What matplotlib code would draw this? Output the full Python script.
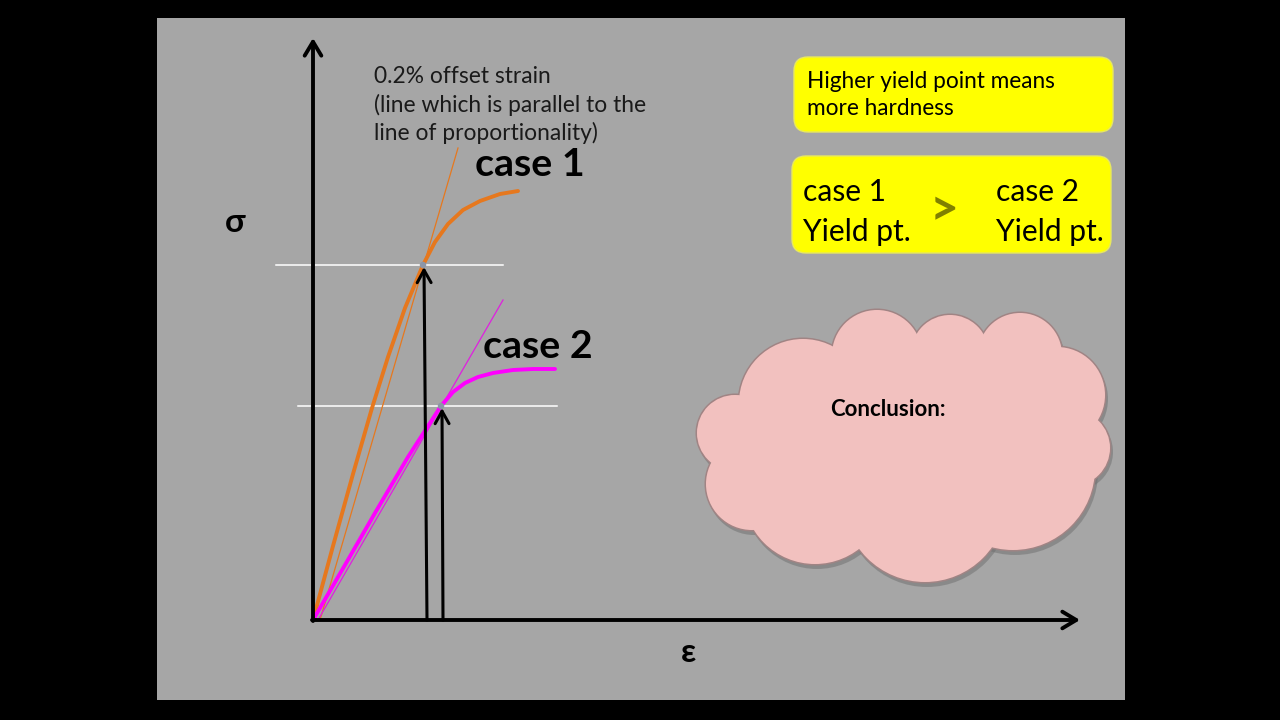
import matplotlib
matplotlib.use("Agg")
import matplotlib.pyplot as plt
from matplotlib.patches import FancyBboxPatch, Circle, Ellipse, Rectangle

plt.rcParams['font.family'] = ['Lato', 'DejaVu Sans']

# stress-strain curves (strain, stress) in drawing units, origin at the axes corner
case1_strain = [0, 20, 40, 59, 75, 92, 110, 122, 135, 150, 167, 187, 205]
case1_stress = [0, 74, 146, 212, 263, 312, 355, 378, 396, 410, 419, 426, 429]
case2_strain = [0, 32, 62, 95, 128, 140, 152, 165, 180, 200, 220, 242]
case2_stress = [0, 55, 107, 163, 214, 228, 237, 243, 247, 250, 251, 251]

# 0.2% offset lines (start, end)
offset1_strain = [7, 145]
offset1_stress = [0, 472]
offset2_strain = [5, 190]
offset2_stress = [0, 320]

# yield points and the horizontal guide lines through them
yield_strain = [110, 128]
yield_stress = [355, 214]
guide_from = [-37, -15]
guide_to = [190, 244]
arrow_base = [114, 130]

x_axis_end = 767
y_axis_end = 582

orange = '#e6781e'
magenta = '#ff00ff'

fig = plt.figure(figsize=(12.8, 7.2), dpi=100)
fig.patch.set_facecolor('black')

# slide layer in pixel coordinates
slide = fig.add_axes([0, 0, 1, 1])
slide.set_xlim(0, 1280)
slide.set_ylim(720, 0)
slide.axis('off')
slide.add_patch(Rectangle((157, 18), 968, 682, facecolor='#a6a6a6', edgecolor='none'))

# yellow notes
slide.add_patch(FancyBboxPatch((794, 57), 319, 75, boxstyle='round,pad=0,rounding_size=14',
                               facecolor='#ffff00', edgecolor='#e8e860', lw=1))
slide.text(807, 95, 'Higher yield point means\nmore hardness', fontsize=16.3,
           va='center', ha='left', linespacing=1.38)
slide.add_patch(FancyBboxPatch((792, 156), 319, 97, boxstyle='round,pad=0,rounding_size=14',
                               facecolor='#ffff00', edgecolor='#e8e860', lw=1))
slide.text(803, 212, 'case 1\nYield pt.', fontsize=21.6, va='center', ha='left', linespacing=1.55)
slide.text(996, 212, 'case 2\nYield pt.', fontsize=21.6, va='center', ha='left', linespacing=1.55)
slide.text(944, 211, '>', fontsize=36, fontweight='bold', color='#808000', va='center', ha='center')

# conclusion cloud built from overlapping lobes
lobes = [(735, 433, 38), (752, 484, 46), (815, 492, 72), (925, 500, 82), (1013, 468, 82),
         (1072, 448, 38), (1057, 395, 48), (1020, 355, 42), (950, 354, 39), (877, 355, 45),
         (803, 403, 64)]
for cx, cy, r in lobes:
    slide.add_patch(Circle((cx + 2, cy + 4), r + 1, facecolor='#6e6e6e', edgecolor='none', alpha=0.5))
for cx, cy, r in lobes:
    slide.add_patch(Circle((cx, cy), r + 1.5, facecolor='#a08484', edgecolor='none'))
for cx, cy, r in lobes:
    slide.add_patch(Circle((cx, cy), r, facecolor='#f2c1bf', edgecolor='none'))
slide.add_patch(Ellipse((905, 445), 380, 200, facecolor='#f2c1bf', edgecolor='none'))
slide.text(888, 410, 'Conclusion:', fontsize=16, fontweight='bold', ha='center', va='center')

# stress-strain diagram layer, origin at pixel (313, 620)
ax = fig.add_axes([0, 0, 1, 1])
ax.set_xlim(-313, 967)
ax.set_ylim(-100, 620)
ax.axis('off')
ax.patch.set_alpha(0)

axis_style = '->,head_length=1.0,head_width=0.6'
ax.annotate('', xy=(0, y_axis_end), xytext=(0, -1),
            arrowprops=dict(arrowstyle=axis_style, color='black', lw=2.8, shrinkA=0, shrinkB=0))
ax.annotate('', xy=(x_axis_end, 0), xytext=(-1, 0),
            arrowprops=dict(arrowstyle=axis_style, color='black', lw=2.8, shrinkA=0, shrinkB=0))

for i in range(2):
    ax.plot([guide_from[i], guide_to[i]], [yield_stress[i], yield_stress[i]], color='white', lw=1.1)

ax.plot(offset1_strain, offset1_stress, color=orange, lw=0.9)
ax.plot(offset2_strain, offset2_stress, color='#e01ee0', lw=0.9)
ax.plot(case1_strain, case1_stress, color=orange, lw=2.8, solid_capstyle='round', solid_joinstyle='round')
ax.plot(case2_strain, case2_stress, color=magenta, lw=2.8, solid_capstyle='round', solid_joinstyle='round')

for i in range(2):
    ax.annotate('', xy=(yield_strain[i] + 1, yield_stress[i] - 2), xytext=(arrow_base[i], 0),
                arrowprops=dict(arrowstyle='->,head_length=0.9,head_width=0.5', color='black',
                                lw=2.2, shrinkA=0, shrinkB=0))
ax.scatter(yield_strain, yield_stress, s=22, color='#8c96a8', zorder=5, edgecolors='none')

ax.text(61, 515, '0.2% offset strain\n(line which is parallel to the\nline of proportionality)',
        fontsize=16.4, ha='left', va='center', linespacing=1.33, color='#1a1a1a')
ax.text(162, 455, 'case 1', fontsize=28.4, fontweight='bold', ha='left', va='center')
ax.text(170, 274, 'case 2', fontsize=28.4, fontweight='bold', ha='left', va='center')
ax.text(-78, 398, 'σ', fontsize=24, fontweight='bold', ha='center', va='center')
ax.text(375, -33, 'ε', fontsize=24, fontweight='bold', ha='center', va='center')

fig.savefig('out.png', dpi=100, facecolor=fig.get_facecolor())
